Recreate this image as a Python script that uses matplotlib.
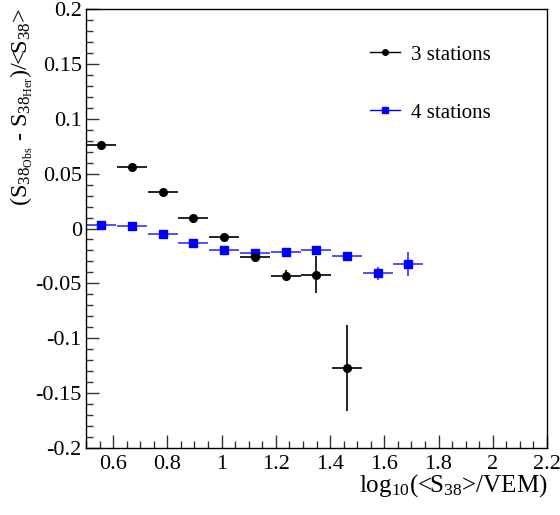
import matplotlib
matplotlib.use("Agg")
import matplotlib.pyplot as plt
from matplotlib.lines import Line2D
from matplotlib.ticker import MultipleLocator, FuncFormatter

plt.rcParams['font.family'] = ['Liberation Serif', 'DejaVu Serif']
plt.rcParams['mathtext.fontset'] = 'custom'
plt.rcParams['mathtext.rm'] = 'Liberation Serif'
plt.rcParams['mathtext.it'] = 'Liberation Serif:italic'

# Data
x_centers = [0.555, 0.670, 0.784, 0.895, 1.009, 1.124, 1.238, 1.349, 1.463, 1.577, 1.688]
x_halfwidth = [0.056] * 11

st3_y = [0.076, 0.056, 0.033, 0.010, -0.008, -0.026, -0.043, -0.042, -0.127]
st3_err = [0.001, 0.001, 0.001, 0.001, 0.001, 0.002, 0.005, 0.017, 0.039]

st4_y = [0.003, 0.002, -0.005, -0.013, -0.020, -0.022, -0.021, -0.020, -0.025, -0.041, -0.032]
st4_err = [0.001, 0.001, 0.001, 0.001, 0.001, 0.001, 0.001, 0.002, 0.002, 0.006, 0.011]

labels = ['3 stations', '4 stations']

fig = plt.figure(figsize=(5.6, 5.15), dpi=100)
ax = fig.add_axes([86/560, 1-448/515, (547-86)/560, (448-9)/515])

n3 = len(st3_y)
ax.errorbar(x_centers[:n3], st3_y, xerr=x_halfwidth[:n3], yerr=st3_err,
            fmt='o', color='black', ms=5.5, mec='black', elinewidth=1.2, capsize=0, zorder=3)
ax.errorbar(x_centers, st4_y, xerr=x_halfwidth, yerr=st4_err,
            fmt='s', color='blue', ms=5.5, mec='blue', ecolor='#3333ff', elinewidth=1.2, capsize=0, zorder=2)

ax.set_xlim(0.5, 2.2)
ax.set_ylim(-0.2, 0.2)

ax.xaxis.set_major_locator(MultipleLocator(0.2))
ax.xaxis.set_minor_locator(MultipleLocator(0.05))
ax.yaxis.set_major_locator(MultipleLocator(0.05))
ax.yaxis.set_minor_locator(MultipleLocator(0.01))

def fmt(v, pos):
    s = ('%.2f' % v).rstrip('0').rstrip('.')
    if s in ('-0', ''):
        s = '0'
    return s
ax.xaxis.set_major_formatter(FuncFormatter(fmt))
ax.yaxis.set_major_formatter(FuncFormatter(fmt))

ax.tick_params(which='both', direction='in', top=False, right=False, labelsize=16, width=1, color='#333333')
ax.tick_params(which='major', length=9.5)
ax.tick_params(which='minor', length=5)
ax.tick_params(axis='y', pad=3)
ax.tick_params(axis='x', pad=5)
for s in ax.spines.values():
    s.set_linewidth(1)

fig.text(547/560, 1-492/515, 'log$_{10}$(<S$_{38}$>/VEM)', ha='right', va='baseline', fontsize=18)
fig.text(8/560, 1-8/515, '(S$_{38_{\\mathrm{Obs}}}$ - S$_{38_{\\mathrm{Her}}}$)/<S$_{38}$>',
         rotation=90, ha='left', va='top', fontsize=17.5)

handles = [Line2D([], [], color='black', marker='o', ms=4, lw=1),
           Line2D([], [], color='blue', marker='s', ms=4, lw=1)]
ax.legend(handles, labels, loc='upper left', bbox_to_anchor=((370-86)/461, 1-(45-9)/439),
          frameon=False, fontsize=15, borderpad=0, borderaxespad=0,
          labelspacing=1.85, handlelength=1.45, handletextpad=0.5)

fig.savefig('out.png', dpi=100)
